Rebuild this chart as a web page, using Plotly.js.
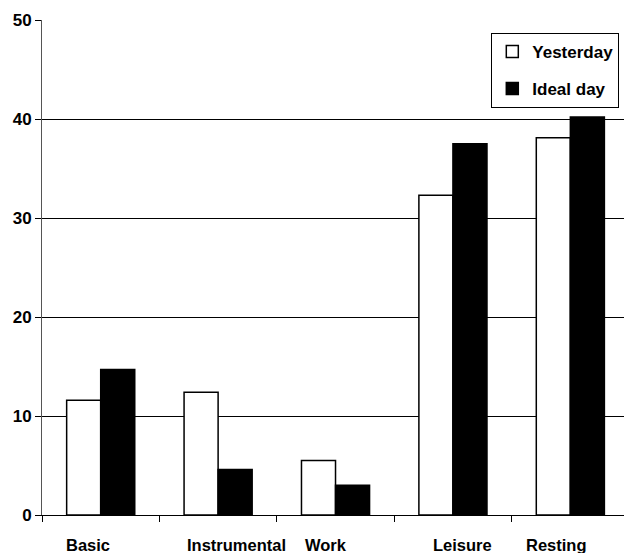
<!DOCTYPE html>
<html>
<head>
<meta charset="utf-8">
<script src="https://cdn.plot.ly/plotly-3.0.1.min.js"></script>
<style>html,body{margin:0;padding:0;background:#fff;}#chart{width:624px;height:553px;}</style>
</head>
<body>
<div id="chart"></div>
<script>
const categories = ["Basic", "Instrumental", "Work", "Leisure", "Resting"];
const yesterday = [11.6, 12.4, 5.5, 32.3, 38.1];
const idealDay = [14.7, 4.6, 3.0, 37.5, 40.2];
const seriesNames = ["Yesterday", "Ideal day"];
const yTicks = [0, 10, 20, 30, 40, 50];
// small horizontal nudges of the category labels (style only), in px
const labelShift = [-13, 18, -10, 10, -14];

const FONT = "Liberation Sans, Arial, Helvetica, sans-serif";

const traces = [
  {
    type: "bar", name: seriesNames[0], x: categories, y: yesterday,
    marker: {color: "#ffffff", line: {color: "#000000", width: 1.5}},
    legendgroup: "a", hoverinfo: "skip"
  },
  {
    type: "bar", name: seriesNames[1], x: categories, y: idealDay,
    marker: {color: "#000000", line: {color: "#000000", width: 1.5}},
    legendgroup: "b", hoverinfo: "skip"
  }
];

const annotations = categories.map((c, i) => ({
  text: c, x: c, xref: "x", y: 0, yref: "paper",
  xanchor: "center", yanchor: "top", yshift: -19, xshift: labelShift[i],
  showarrow: false,
  font: {family: FONT, size: 16.5, color: "#000", weight: "bold"}
}));

const layout = {
  width: 624, height: 553,
  margin: {l: 42, r: 0, t: 20, b: 38, pad: 0},
  paper_bgcolor: "#fff", plot_bgcolor: "#fff",
  font: {family: FONT, size: 16, color: "#000", weight: "bold"},
  barmode: "group", bargap: 0.42, bargroupgap: 0,
  showlegend: true,
  legend: {
    x: 0.772, y: 0.974, xanchor: "left", yanchor: "top",
    bgcolor: "#fff", bordercolor: "#000", borderwidth: 1,
    font: {family: FONT, size: 17, color: "#000", weight: "bold"},
    tracegroupgap: 12, traceorder: "grouped"
  },
  xaxis: {
    type: "category", range: [-0.5, 4.457],
    showgrid: false, zeroline: false,
    showline: true, linecolor: "#000", linewidth: 1,
    ticks: "outside", tickson: "boundaries", ticklen: 6, tickcolor: "#000", tickwidth: 1,
    showticklabels: false, fixedrange: true
  },
  yaxis: {
    range: [0, 50], tickvals: yTicks, ticktext: yTicks.map(String),
    showgrid: true, gridcolor: "#000", gridwidth: 1,
    zeroline: false, showline: true, linecolor: "#555", linewidth: 1,
    ticks: "outside", ticklen: 6, tickcolor: "#000", tickwidth: 1,
    tickfont: {family: FONT, size: 17, color: "#000", weight: "bold"},
    fixedrange: true
  },
  annotations: annotations
};

Plotly.newPlot("chart", traces, layout, {staticPlot: true, displayModeBar: false});
</script>
</body>
</html>
